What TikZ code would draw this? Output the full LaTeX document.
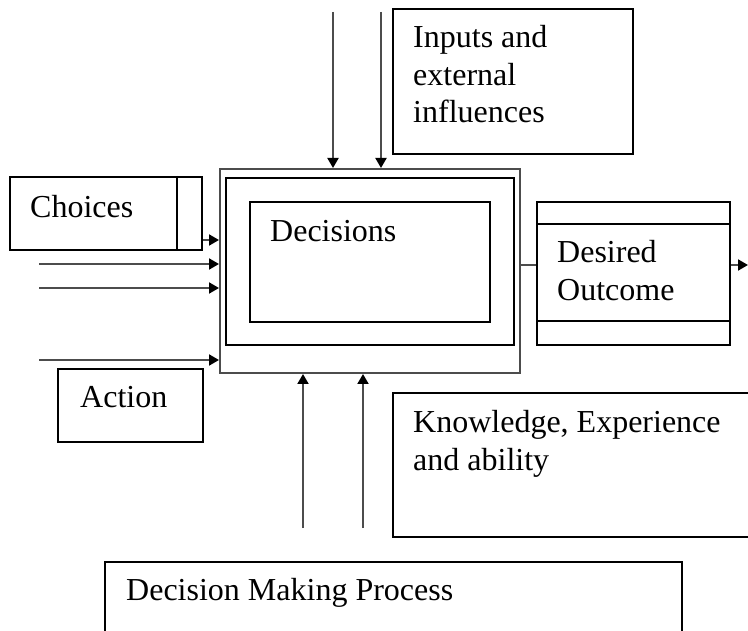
\documentclass[tikz,border=0pt]{standalone}
\usepackage{fontspec}
\setmainfont{Liberation Serif}
\usetikzlibrary{arrows.meta}
\begin{document}
\begin{tikzpicture}[x=1pt,y=-1pt,
  box/.style={draw=black,line width=2pt,rectangle,inner sep=0pt,anchor=north west},
  graybox/.style={draw=black!70,line width=2pt,rectangle,inner sep=0pt,anchor=north west},
  txt/.style={inner sep=0pt,anchor=base west,font=\fontsize{32}{37.5}\selectfont},
  arr/.style={draw=black!70,line width=2pt,-{Triangle[length=10pt,width=11pt,fill=black,color=black]}},
  ln/.style={draw=black!70,line width=2pt}]
\useasboundingbox (0,0) rectangle (748,631);

% boxes
\node[graybox,minimum width=300pt,minimum height=204pt] (outer) at (219,168) {};
\node[box,minimum width=288pt,minimum height=167pt] (middle) at (225,177) {};
\node[box,minimum width=240pt,minimum height=120pt] (inner) at (249,201) {};
\node[box,minimum width=192pt,minimum height=73pt] (choices) at (9,176) {};
\node[box,minimum width=145pt,minimum height=73pt] (action) at (57,368) {};
\node[box,minimum width=240pt,minimum height=145pt] (inputs) at (392,8) {};
\node[box,minimum width=193pt,minimum height=143pt] (desired) at (536,201) {};
\node[box,minimum width=360pt,minimum height=144pt] (know) at (392,392) {};
\node[box,minimum width=577pt,minimum height=90pt] (dmp) at (104,561) {};

% box dividers
\draw[line width=2pt] (177,176) -- (177,249);
\draw[line width=2pt] (536,224) -- (729,224);
\draw[line width=2pt] (536,321) -- (729,321);

% texts
\node[txt] (tchoices) at (30,218) {Choices};
\node[txt] (tdecisions) at (270,242) {Decisions};
\node[txt] (tinputs) at (413,48) {\begin{tabular}[t]{@{}l@{}}Inputs and\\external\\influences\end{tabular}};
\node[txt] (tdesired) at (557,263) {\begin{tabular}[t]{@{}l@{}}Desired\\Outcome\end{tabular}};
\node[txt] (tknow) at (413,432) {\begin{tabular}[t]{@{}l@{}}Knowledge, Experience\\[1.5pt]and ability\end{tabular}};
\node[txt] (taction) at (80,408) {Action};
\node[txt] (tdmp) at (126,600) {Decision Making Process};

% free ends
\coordinate (l2) at (39,264);
\coordinate (l3) at (39,288);
\coordinate (l4) at (39,360);
\coordinate (t1) at (333,12);
\coordinate (t2) at (381,12);
\coordinate (b1) at (303,528);
\coordinate (b2) at (363,528);
\coordinate (rend) at (748,265);

% connectors
\draw[arr] (choices.east |- 0,240) -- (outer.west |- 0,240);
\draw[arr] (l2) -- (outer.west |- l2);
\draw[arr] (l3) -- (outer.west |- l3);
\draw[arr] (l4) -- (outer.west |- l4);
\draw[arr] (t1) -- (outer.north -| t1);
\draw[arr] (t2) -- (outer.north -| t2);
\draw[arr] (b1) -- (outer.south -| b1);
\draw[arr] (b2) -- (outer.south -| b2);
\draw[ln] (outer.east |- 0,265) -- (desired.west |- 0,265);
\draw[arr] (desired.east |- rend) -- (rend);
\end{tikzpicture}
\end{document}
